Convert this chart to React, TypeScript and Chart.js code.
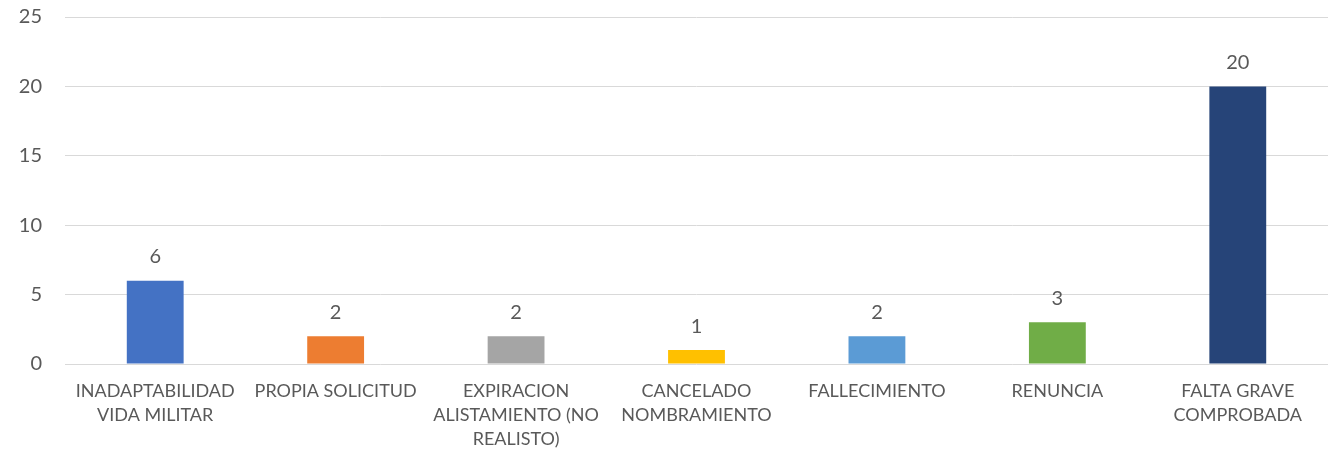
import React, { useEffect, useRef } from "react";
import { Chart, registerables } from "chart.js";

Chart.register(...registerables);

const categories: string[][] = [
  ["INADAPTABILIDAD", "VIDA MILITAR"],
  ["PROPIA SOLICITUD"],
  ["EXPIRACION", "ALISTAMIENTO (NO", "REALISTO)"],
  ["CANCELADO", "NOMBRAMIENTO"],
  ["FALLECIMIENTO"],
  ["RENUNCIA"],
  ["FALTA GRAVE", "COMPROBADA"],
];
const values: number[] = [6, 2, 2, 1, 2, 3, 20];
const barColors: string[] = ["#4472C4", "#ED7D31", "#A5A5A5", "#FFC000", "#5B9BD5", "#70AD47", "#264478"];
const yTicks: number[] = [0, 5, 10, 15, 20, 25];

const FONT = "Lato, 'Open Sans', sans-serif";
const TEXT = "#595959";

const dataLabels = {
  id: "dataLabels",
  afterDatasetsDraw(chart: any) {
    const { ctx } = chart;
    const meta = chart.getDatasetMeta(0);
    ctx.save();
    ctx.font = `20px ${FONT}`;
    ctx.fillStyle = TEXT;
    ctx.textAlign = "center";
    ctx.textBaseline = "middle";
    meta.data.forEach((bar: any, i: number) => {
      ctx.fillText(String(values[i]), bar.x, bar.y - 24);
    });
    ctx.restore();
  },
};

export default function App() {
  const ref = useRef<HTMLCanvasElement>(null);
  useEffect(() => {
    document.body.style.margin = "0";
    const chart = new Chart(ref.current!, {
      type: "bar",
      data: {
        labels: categories,
        datasets: [
          {
            data: values,
            backgroundColor: barColors,
            barPercentage: 0.315,
            categoryPercentage: 1,
          },
        ],
      },
      options: {
        responsive: false,
        animation: false,
        layout: { padding: { left: 0, right: 9, top: 17, bottom: 0 } },
        plugins: { legend: { display: false }, tooltip: { enabled: false } },
        scales: {
          x: {
            grid: { display: false },
            border: { display: false },
            afterFit: (axis: any) => {
              axis.height = 90;
              axis.paddingTop = 0;
              axis.paddingBottom = 0;
            },
            ticks: {
              color: TEXT,
              font: { family: FONT, size: 18, lineHeight: 1.333 },
              maxRotation: 0,
              autoSkip: false,
              padding: 7,
            },
          },
          y: {
            min: 0,
            max: 25,
            afterBuildTicks: (axis: any) => {
              axis.ticks = yTicks.map((v) => ({ value: v }));
            },
            afterFit: (axis: any) => {
              axis.width = 65;
              axis.paddingTop = 0;
              axis.paddingBottom = 0;
            },
            grid: { color: "#D9D9D9", lineWidth: 1, drawTicks: false },
            border: { display: false },
            ticks: {
              color: TEXT,
              font: { family: FONT, size: 20 },
              padding: 23,
            },
          },
        },
      },
      plugins: [dataLabels],
    });
    return () => chart.destroy();
  }, []);
  return (
    <div style={{ position: "absolute", left: 0, top: 0, width: 1337, height: 454 }}>
      <canvas ref={ref} width={1337} height={454} />
    </div>
  );
}
